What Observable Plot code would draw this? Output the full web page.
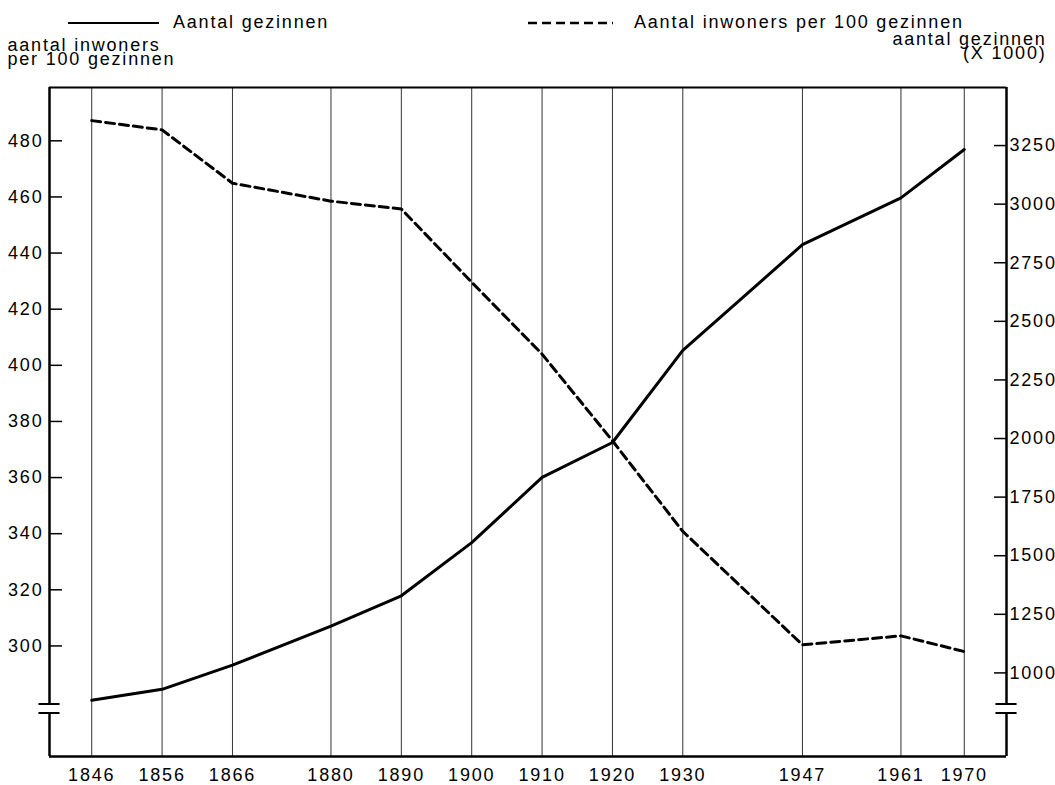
<!DOCTYPE html>
<html>
<head>
<meta charset="utf-8">
<script src="https://cdn.jsdelivr.net/npm/d3@7"></script>
<script src="https://cdn.jsdelivr.net/npm/@observablehq/plot@0.6"></script>
<style>
  html, body { margin: 0; padding: 0; background: #fff; }
  #legend { display: block; }
  #chart svg { display: block; }
</style>
</head>
<body>
<svg id="legend" width="1055" height="34" font-family="'Liberation Sans', Arial, sans-serif" font-size="18" letter-spacing="1.8px">
  <line x1="68" y1="23" x2="159" y2="23" stroke="#000" stroke-width="2"></line>
  <text x="173" y="28" fill="#000">Aantal gezinnen</text>
  <line x1="528" y1="23" x2="613" y2="23" stroke="#000" stroke-width="2.5" stroke-dasharray="9,5"></line>
  <text x="634" y="28" fill="#000">Aantal inwoners per 100 gezinnen</text>
</svg>
<div id="chart"></div>
<script>
// ---- data ----
const years = [1846, 1856, 1866, 1880, 1890, 1900, 1910, 1920, 1930, 1947, 1961, 1970];
// Aantal gezinnen (x 1000) — right axis
const gezinnen = [883, 930, 1033, 1200, 1329, 1556, 1834, 1983, 2376, 2827, 3027, 3233];
// Aantal inwoners per 100 gezinnen — left axis
const inwonersPer100 = [487.2, 483.9, 464.9, 458.5, 455.7, 429.6, 404.0, 373.1, 340.8, 300.4, 303.6, 298.0];
// tick values
const leftTicks = [300, 320, 340, 360, 380, 400, 420, 440, 460, 480];
const rightTicks = [1000, 1250, 1500, 1750, 2000, 2250, 2500, 2750, 3000, 3250];
const xTicks = years;
// text
const leftTitle = "aantal inwoners\nper 100 gezinnen";
const rightTitle = "aantal gezinnen\n(X 1000)";

// ---- scales ----
const xDomain = [1840, 1976];
const yDomain = [260.6, 499];          // left-axis units
const axisBreak = [276.1, 279.3];      // left-axis units: gap in both vertical axes
// right axis (gezinnen) expressed in left-axis units
const RA = 206.87, RB = 0.08352;
const toLeft = r => RA + RB * r;
const fromLeft = l => Math.round((l - RA) / RB);

const inwonersData = years.map((year, i) => ({year, value: inwonersPer100[i]}));
const gezinnenData = years.map((year, i) => ({year, value: toLeft(gezinnen[i])}));

const axisSegments = [
  {y1: yDomain[0], y2: axisBreak[0]},
  {y1: axisBreak[1], y2: yDomain[1]}
];

const chart = Plot.plot({
  width: 1055,
  height: 751,
  marginLeft: 49,
  marginRight: 49,
  marginTop: 53,
  marginBottom: 29,
  style: {
    fontFamily: "'Liberation Sans', Arial, sans-serif",
    fontSize: "18px",
    letterSpacing: "1.8px",
    background: "#fff",
    color: "#000",
    overflow: "visible"
  },
  x: {domain: xDomain, axis: null},
  y: {domain: yDomain, axis: null},
  marks: [
    // vertical grid lines at each census year
    Plot.ruleX(years, {stroke: "#333", strokeWidth: 1}),
    // frame top and bottom
    Plot.ruleY([yDomain[1]], {stroke: "#000", strokeWidth: 2}),
    Plot.ruleY([yDomain[0]], {stroke: "#000", strokeWidth: 2.5}),
    // left and right axis lines with break
    Plot.ruleX(axisSegments, {x: () => xDomain[0], y1: "y1", y2: "y2", stroke: "#000", strokeWidth: 2.5}),
    Plot.ruleX(axisSegments, {x: () => xDomain[1], y1: "y1", y2: "y2", stroke: "#000", strokeWidth: 2.5}),
    // break marks
    Plot.ruleY(axisBreak, {x1: xDomain[0] - 1.5, x2: xDomain[0] + 1.5, stroke: "#000", strokeWidth: 2}),
    Plot.ruleY(axisBreak, {x1: xDomain[1] - 1.5, x2: xDomain[1] + 1.5, stroke: "#000", strokeWidth: 2}),
    // series
    Plot.line(gezinnenData, {x: "year", y: "value", stroke: "#000", strokeWidth: 3}),
    Plot.line(inwonersData, {x: "year", y: "value", stroke: "#000", strokeWidth: 3, strokeDasharray: "9,5"}),
    // axes
    Plot.axisY(leftTicks, {anchor: "left", tickSize: -13, tickPadding: 19, strokeWidth: 1.5, label: null}),
    Plot.axisY(rightTicks.map(toLeft), {anchor: "right", tickSize: -13, tickPadding: 16, strokeWidth: 1.5, tickFormat: d => String(fromLeft(d)), label: null}),
    Plot.axisX(xTicks, {anchor: "bottom", tickSize: 0, tickPadding: 12, tickFormat: d => String(d), label: null}),
    // axis titles
    Plot.text([leftTitle], {frameAnchor: "top-left", textAnchor: "start", lineAnchor: "top", lineHeight: 0.8, dx: -42, dy: -47, fill: "#000"}),
    Plot.text([rightTitle], {frameAnchor: "top-right", textAnchor: "end", lineAnchor: "top", lineHeight: 0.8, dx: 40, dy: -53, fill: "#000"})
  ]
});
document.getElementById("chart").appendChild(chart);
</script>
</body>
</html>
